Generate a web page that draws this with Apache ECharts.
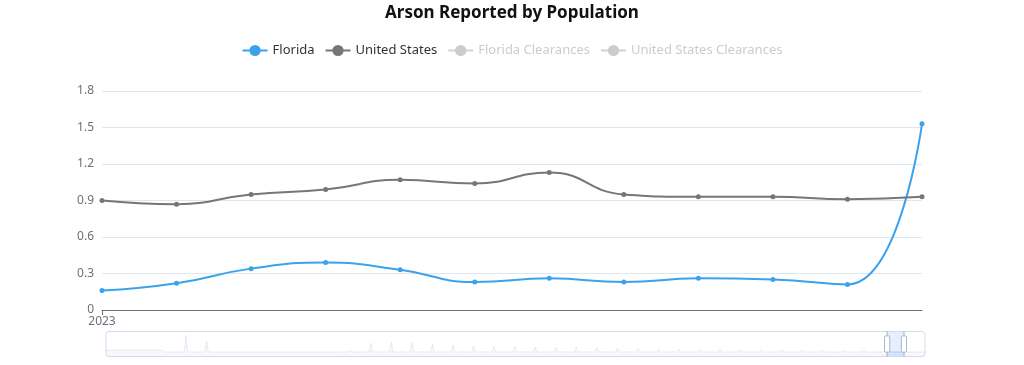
<!DOCTYPE html>
<html>
<head>
<meta charset="utf-8">
<script src="https://cdn.jsdelivr.net/npm/echarts@6/dist/echarts.min.js"></script>
<style>
html,body{margin:0;padding:0;background:#fff;}
#chart{width:1024px;height:365px;}
</style>
</head>
<body>
<div id="chart"></div>
<script>
// ---- data ----
const years = [1985,1986,1987,1988,1989,1990,1991,1992,1993,1994,1995,1996,1997,1998,1999,2000,2001,2002,2003,2004,
               2005,2006,2007,2008,2009,2010,2011,2012,2013,2014,2015,2016,2017,2018,2019,2020,2021,2022,2023,2024];
const months = ['01','02','03','04','05','06','07','08','09','10','11','12'];

// Florida, monthly rows per year (estimated from the zoom-slider shadow; 2023 from the main plot)
const floridaRows = [
  [1.52,1.48,1.55,1.50,1.47,1.53,1.56,1.49,1.51,1.54,1.48,1.50],
  [1.49,1.53,1.50,1.47,1.55,1.51,1.48,1.52,1.50,1.46,1.53,1.49],
  [1.51,1.47,1.52,1.54,1.49,1.50,1.53,1.48,1.51,1.50,0.27,0.26],
  [0.25,0.24,0.27,0.26,0.25,0.28,0.26,0.24,0.25,0.27,0.26,10.8],
  [0.26,0.25,0.24,0.27,0.26,0.25,0.28,0.26,0.25,0.24,0.26,7.4],
  [0.25,0.26,0.24,0.25,0.27,0.26,0.25,0.24,0.26,0.25,0.27,0.26],
  [0.24,0.25,0.26,0.25,0.24,0.27,0.26,0.25,0.24,0.26,0.25,0.27],
  [0.26,0.24,0.25,0.27,0.25,0.26,0.24,0.25,0.26,0.27,0.25,0.24],
  [0.25,0.26,0.27,0.24,0.26,0.25,0.27,0.26,0.24,0.25,0.26,0.25],
  [0.24,0.25,0.26,0.25,0.27,0.24,0.25,0.26,0.25,0.24,0.26,0.27],
  [0.26,0.25,0.24,0.26,0.25,0.27,0.25,0.24,0.26,0.25,0.27,0.26],
  [0.25,0.24,0.26,0.25,0.26,0.28,0.25,0.26,0.24,0.25,0.26,1.5],
  [0.26,0.25,0.27,0.24,0.26,0.45,0.25,0.26,0.25,0.24,0.27,6.0],
  [0.25,0.27,0.26,0.25,0.24,0.80,0.26,0.25,0.27,0.26,0.25,6.7],
  [0.26,0.24,0.25,0.27,0.26,0.78,0.25,0.24,0.26,0.25,0.27,6.6],
  [0.25,0.26,0.24,0.26,0.27,0.75,0.26,0.25,0.24,0.26,0.25,5.4],
  [0.24,0.25,0.27,0.26,0.25,0.72,0.24,0.26,0.25,0.27,0.26,4.8],
  [0.26,0.25,0.24,0.25,0.27,0.70,0.26,0.24,0.25,0.26,0.25,4.1],
  [0.25,0.27,0.26,0.24,0.25,0.68,0.25,0.27,0.26,0.24,0.26,4.0],
  [0.24,0.26,0.25,0.27,0.26,0.66,0.24,0.25,0.27,0.26,0.25,3.8],
  [0.26,0.25,0.24,0.26,0.25,0.64,0.27,0.26,0.24,0.25,0.26,3.5],
  [0.25,0.24,0.26,0.25,0.27,0.62,0.25,0.24,0.26,0.27,0.25,3.4],
  [0.27,0.26,0.25,0.24,0.26,0.60,0.26,0.25,0.24,0.26,0.27,3.4],
  [0.25,0.26,0.27,0.25,0.24,0.58,0.25,0.27,0.26,0.25,0.24,3.1],
  [0.24,0.25,0.26,0.27,0.25,0.56,0.26,0.24,0.25,0.27,0.26,2.8],
  [0.26,0.27,0.25,0.24,0.26,0.54,0.25,0.26,0.27,0.24,0.25,2.5],
  [0.25,0.24,0.26,0.25,0.27,0.50,0.24,0.25,0.26,0.25,0.27,2.2],
  [0.26,0.25,0.24,0.26,0.25,0.48,0.26,0.27,0.25,0.24,0.26,2.1],
  [0.24,0.26,0.25,0.27,0.26,0.46,0.25,0.24,0.26,0.25,0.24,2.1],
  [0.25,0.27,0.26,0.24,0.25,0.44,0.27,0.26,0.24,0.26,0.25,2.0],
  [0.26,0.24,0.25,0.26,0.27,0.42,0.24,0.25,0.26,0.27,0.25,1.9],
  [0.25,0.26,0.27,0.25,0.24,0.40,0.26,0.25,0.27,0.24,0.26,1.8],
  [0.24,0.25,0.26,0.27,0.25,0.38,0.25,0.26,0.24,0.25,0.27,1.8],
  [0.26,0.27,0.24,0.25,0.26,0.36,0.27,0.24,0.25,0.26,0.24,1.7],
  [0.25,0.24,0.26,0.25,0.27,0.34,0.25,0.26,0.27,0.25,0.24,1.6],
  [0.26,0.25,0.27,0.24,0.25,0.32,0.26,0.25,0.24,0.26,0.25,1.55],
  [0.24,0.26,0.25,0.27,0.26,0.30,0.24,0.26,0.25,0.27,0.26,1.6],
  [0.25,0.24,0.26,0.25,0.27,0.28,0.25,0.24,0.26,0.25,0.23,1.55],
  [0.16,0.22,0.34,0.39,0.33,0.23,0.26,0.23,0.26,0.25,0.21,1.53],
  [0.20,0.22,0.24,0.23,0.25,0.24,0.22,0.23,0.24,0.22,0.21,0.22]
];
// United States, 2023 monthly (only the visible window is known)
const usYear = 2023;
const us2023 = [0.90,0.87,0.95,0.99,1.07,1.04,1.13,0.95,0.93,0.93,0.91,0.93];

const seriesNames = ['Florida','United States','Florida Clearances','United States Clearances'];
const yTicks = {min: 0, max: 1.8, interval: 0.3};
const windowStart = '2023-01', windowEnd = '2023-12';

// ---- build ----
const categories = [];
years.forEach(y => months.forEach(m => categories.push(y + '-' + m)));
const floridaData = [].concat(...floridaRows);
const usData = categories.map(c => {
  const [y, m] = c.split('-');
  return (+y === usYear) ? us2023[+m - 1] : null;
});

const FONT = '"Noto Sans", "Open Sans", sans-serif';
const chart = echarts.init(document.getElementById('chart'), null, {renderer: 'canvas'});
chart.setOption({
  animation: false,
  backgroundColor: '#fff',
  textStyle: {fontFamily: FONT},
  title: {
    text: 'Arson Reported by Population',
    left: 'center', top: 0,
    textStyle: {fontSize: 17, fontWeight: 'bold', color: '#111', fontFamily: FONT}
  },
  legend: {
    top: 39, left: 'center',
    itemWidth: 25, itemHeight: 14, itemGap: 10,
    textStyle: {fontSize: 13, color: '#333', fontFamily: FONT},
    inactiveColor: '#ccc',
    data: seriesNames,
    selected: {'Florida Clearances': false, 'United States Clearances': false}
  },
  grid: {left: 102, right: 102, top: 91, bottom: 55, containLabel: false},
  xAxis: {
    type: 'category',
    boundaryGap: false,
    data: categories,
    axisLine: {lineStyle: {color: '#6E7079'}},
    axisTick: {show: true, interval: (i, v) => v.endsWith('-01'), lineStyle: {color: '#6E7079'}},
    axisLabel: {
      color: '#6E7079', fontSize: 12, margin: 6,
      interval: (i, v) => v.endsWith('-01'),
      formatter: v => v.slice(0, 4)
    },
    splitLine: {show: false}
  },
  yAxis: {
    type: 'value',
    min: yTicks.min, max: yTicks.max, interval: yTicks.interval,
    axisLine: {show: false},
    axisTick: {show: false},
    axisLabel: {color: '#6E7079', fontSize: 12, margin: 8},
    splitLine: {lineStyle: {color: '#E0E6F1'}}
  },
  dataZoom: [{
    type: 'slider',
    xAxisIndex: 0,
    startValue: windowStart, endValue: windowEnd,
    filterMode: 'filter',
    left: 103, right: 101, bottom: 8, height: 26,
    showDetail: false,
    backgroundColor: 'rgba(47,69,84,0)',
    borderColor: '#d2dbee',
    borderRadius: 3,
    fillerColor: 'rgba(135,175,274,0.2)',
    dataBackground: {lineStyle: {color: '#d2dbee', width: 0.5}, areaStyle: {color: '#d2dbee', opacity: 0.2}},
    selectedDataBackground: {lineStyle: {color: '#8fb0f7', width: 0.5}, areaStyle: {color: '#8fb0f7', opacity: 0.2}},
    handleIcon: 'path://M-9.35,34.56V42m0-40V9.5m-2,0h4a2,2,0,0,1,2,2v21a2,2,0,0,1-2,2h-4a2,2,0,0,1-2-2v-21A2,2,0,0,1-11.35,9.5Z',
    handleSize: '100%',
    handleStyle: {color: '#fff', borderColor: '#ACB8D1'},
    moveHandleSize: 7,
    moveHandleStyle: {color: '#D2DBEE', opacity: 0.7},
    brushSelect: false
  }],
  series: [
    {
      name: seriesNames[0], type: 'line', data: floridaData, smooth: true,
      symbol: 'circle', symbolSize: 5, showSymbol: true,
      itemStyle: {color: '#3BA2EC'}, lineStyle: {color: '#3BA2EC', width: 2}
    },
    {
      name: seriesNames[1], type: 'line', data: usData, smooth: true,
      symbol: 'circle', symbolSize: 5, showSymbol: true,
      itemStyle: {color: '#767676'}, lineStyle: {color: '#767676', width: 2}
    },
    {
      name: seriesNames[2], type: 'line', data: [], smooth: true,
      symbol: 'circle', symbolSize: 5,
      itemStyle: {color: '#9CCB63'}, lineStyle: {width: 2}
    },
    {
      name: seriesNames[3], type: 'line', data: [], smooth: true,
      symbol: 'circle', symbolSize: 5,
      itemStyle: {color: '#F5C242'}, lineStyle: {width: 2}
    }
  ]
});
</script>
</body>
</html>
